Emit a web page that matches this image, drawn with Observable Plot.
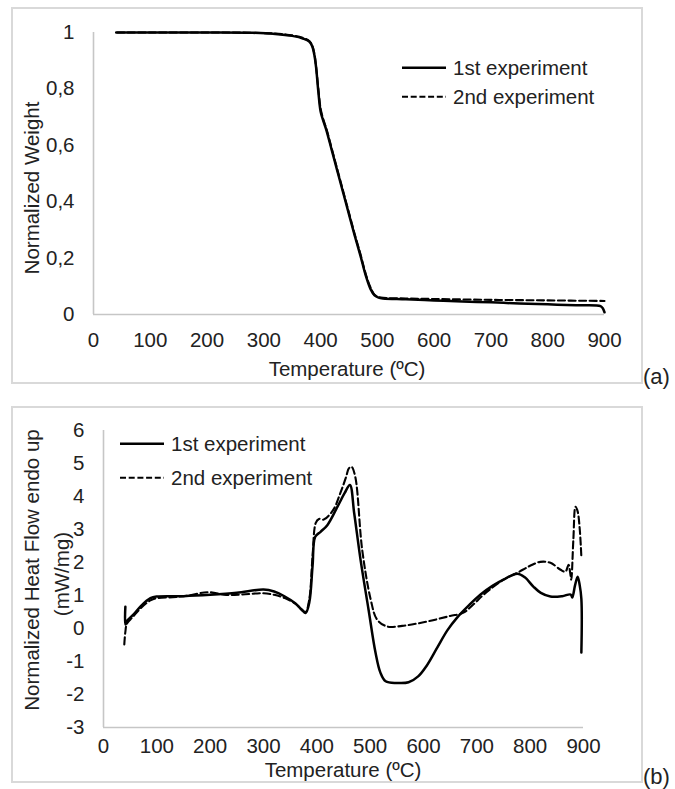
<!DOCTYPE html>
<html>
<head>
<meta charset="utf-8">
<script src="https://cdn.jsdelivr.net/npm/d3@7"></script>
<script src="https://cdn.jsdelivr.net/npm/@observablehq/plot@0.6"></script>
<style>
  html, body { margin: 0; padding: 0; background: #fff; }
  #page { position: relative; width: 675px; height: 789px; background: #fff; overflow: hidden;
          font-family: "Liberation Sans", Arial, sans-serif; color: #222; }
  .box { position: absolute; border: 2px solid #d9d9d9; box-sizing: border-box; }
  .plot { position: absolute; }
  .t { position: absolute; font-size: 20.5px; line-height: 1; white-space: nowrap; transform: translate(-50%, -50%); }
  .rot { transform: translate(-50%, -50%) rotate(-90deg); }
  .lab { position: absolute; font-size: 22px; line-height: 1; white-space: nowrap; transform: translateY(-50%); }
  .leg { position: absolute; display: flex; align-items: center; font-size: 20.5px; line-height: 1; white-space: nowrap; transform: translateY(-50%); }
  .leg svg { margin-right: 7px; }
</style>
</head>
<body>
<div id="page">
  <div class="box" style="left:11px;top:7px;width:632px;height:377px"></div>
  <div class="box" style="left:11px;top:406px;width:632px;height:377px"></div>
  <div id="plotA" class="plot" style="left:11px;top:7px"></div>
  <div id="plotB" class="plot" style="left:11px;top:406px"></div>
</div>
<script>
// ---------- data: panel (a) TGA ----------
const xTicks = [0, 100, 200, 300, 400, 500, 600, 700, 800, 900];
const yTicksA = [0, 0.2, 0.4, 0.6, 0.8, 1];
const yTicksB = [-3, -2, -1, 0, 1, 2, 3, 4, 5, 6];
const seriesNames = ["1st experiment", "2nd experiment"];

const tA1 = [40, 100, 200, 280, 320, 350, 370, 380, 385, 389, 392, 396, 400, 405, 410, 420, 430, 440, 450, 460, 470, 480, 488, 495, 502, 510, 550, 600, 650, 700, 750, 800, 850, 893, 897, 900];
const wA1 = [1, 1, 1, 0.999, 0.995, 0.988, 0.978, 0.968, 0.952, 0.92, 0.877, 0.79, 0.72, 0.685, 0.655, 0.58, 0.505, 0.43, 0.355, 0.28, 0.21, 0.135, 0.09, 0.068, 0.06, 0.057, 0.054, 0.05, 0.046, 0.043, 0.039, 0.036, 0.033, 0.03, 0.022, 0.008];

const tA2 = [42, 100, 200, 280, 320, 350, 370, 380, 385, 389, 392, 396, 400, 405, 410, 420, 430, 440, 450, 460, 470, 480, 488, 495, 502, 510, 550, 600, 700, 800, 900];
const wA2 = [1, 1, 1, 0.999, 0.996, 0.99, 0.98, 0.97, 0.955, 0.925, 0.88, 0.8, 0.73, 0.69, 0.66, 0.585, 0.51, 0.435, 0.36, 0.285, 0.215, 0.14, 0.095, 0.07, 0.062, 0.059, 0.057, 0.055, 0.052, 0.05, 0.048];

// ---------- data: panel (b) DSC ----------
const tB1 = [41, 41, 45, 56, 70, 88, 100, 150, 200, 250, 300, 320, 340, 360, 372, 379, 386, 392, 397, 407, 420, 439, 452, 462, 470, 482, 497, 510, 519, 529, 550, 572, 590, 605, 626, 645, 663, 685, 707, 730, 750, 776, 790, 806, 820, 838, 860, 876, 879, 884, 889, 893, 896, 896];
const vB1 = [0.66, 0.12, 0.25, 0.42, 0.68, 0.92, 0.97, 0.98, 1.02, 1.08, 1.18, 1.12, 0.97, 0.76, 0.56, 0.47, 0.8, 1.9, 2.78, 2.93, 3.14, 3.7, 4.1, 4.35, 3.5, 2.08, 0.57, -0.73, -1.33, -1.6, -1.65, -1.63, -1.45, -1.15, -0.57, -0.05, 0.33, 0.7, 1.03, 1.3, 1.48, 1.66, 1.55, 1.27, 1.08, 0.97, 0.98, 1.03, 0.94, 1.3, 1.57, 1.3, 0.9, -0.73];

const tB2 = [39, 41, 44, 55, 70, 88, 100, 130, 160, 195, 230, 260, 300, 320, 340, 360, 372, 379, 386, 392, 398, 404, 413, 431, 444, 455, 460, 465, 472, 485, 501, 513, 532, 560, 588, 620, 650, 675, 695, 713, 750, 776, 800, 819, 838, 857, 866, 872, 875, 877, 881, 885, 889, 893, 896];
const vB2 = [-0.48, -0.1, 0.15, 0.35, 0.62, 0.85, 0.92, 0.95, 1.0, 1.1, 1.02, 1.03, 1.07, 1.02, 0.92, 0.75, 0.57, 0.5, 0.9, 2.2, 3.2, 3.32, 3.3, 3.6, 4.1, 4.6, 4.85, 4.9, 4.6, 2.39, 0.88, 0.27, 0.06, 0.08, 0.15, 0.26, 0.38, 0.48, 0.75, 1.03, 1.48, 1.69, 1.9, 2.02, 1.99, 1.78, 1.72, 1.93, 1.69, 1.48, 2.7, 3.69, 3.55, 3.0, 2.17];

// ---------- text ----------
const xTitle = "Temperature (ºC)";
const yTitleA = "Normalized Weight";
const yTitleB = ["Normalized Heat Flow endo up", "(mW/mg)"];
const panelLabels = ["(a)", "(b)"];

const FONT = '"Liberation Sans", Arial, sans-serif';
const zip = (xs, ys) => xs.map((x, i) => ({x, y: ys[i]}));
const commaFmt = d => String(d).replace(".", ",");
const AXIS_GRAY = "#c6c6c6";
const DASH = "7,3.5";

function panel({ticksY, domainY, fmt, s1, s2, W, H, ml, mr, mt, mb, xPad}) {
  return Plot.plot({
    width: W, height: H,
    marginLeft: ml, marginRight: mr, marginTop: mt, marginBottom: mb,
    style: {fontFamily: FONT, fontSize: "20.5px", color: "#222", background: "transparent", overflow: "visible"},
    x: {domain: [0, 900]},
    y: {domain: domainY},
    marks: [
      Plot.ruleY([domainY[0]], {stroke: AXIS_GRAY, strokeWidth: 1.6}),
      Plot.ruleX([0], {stroke: AXIS_GRAY, strokeWidth: 1.6}),
      Plot.axisX({ticks: xTicks, tickSize: 0, tickPadding: xPad, label: null, fontSize: 20.5}),
      Plot.axisY({ticks: ticksY, tickSize: 0, tickPadding: 19, label: null, tickFormat: fmt, fontSize: 20.5}),
      Plot.line(s2, {x: "x", y: "y", stroke: "#000", strokeWidth: 2.1, strokeDasharray: DASH, curve: "catmull-rom"}),
      Plot.line(s1, {x: "x", y: "y", stroke: "#000", strokeWidth: 2.5, curve: "catmull-rom"})
    ]
  });
}

const A = panel({ticksY: yTicksA, domainY: [0, 1], fmt: commaFmt,
  s1: zip(tA1, wA1), s2: zip(tA2, wA2), W: 632, H: 377, ml: 82, mr: 39, mt: 25, mb: 70, xPad: 18});
document.getElementById("plotA").appendChild(A);

const B = panel({ticksY: yTicksB, domainY: [-3, 6], fmt: d => String(d),
  s1: zip(tB1, vB1), s2: zip(tB2, vB2), W: 632, H: 377, ml: 92, mr: 60, mt: 24, mb: 56, xPad: 11});
document.getElementById("plotB").appendChild(B);

// ---------- titles, legends, panel labels ----------
const page = document.getElementById("page");
function addText(cls, txt, left, top) {
  const d = document.createElement("div");
  d.className = cls;
  d.textContent = txt;
  d.style.left = left + "px";
  d.style.top = top + "px";
  page.appendChild(d);
  return d;
}
addText("t", xTitle, 347, 369);
addText("t rot", yTitleA, 32, 188);
addText("t", xTitle, 343, 770);
addText("t rot", yTitleB[0], 32, 570);
addText("t rot", yTitleB[1], 62, 574);
addText("lab", panelLabels[0], 643, 377);
addText("lab", panelLabels[1], 643, 777);

function addLegend(left, tops) {
  seriesNames.forEach((name, i) => {
    const d = document.createElement("div");
    d.className = "leg";
    d.style.left = left + "px";
    d.style.top = tops[i] + "px";
    const dash = i === 1 ? ` stroke-dasharray="6,2.7"` : "";
    const sw = i === 1 ? 2.1 : 2.5;
    d.innerHTML = `<svg width="44" height="6"><line x1="0" y1="3" x2="44" y2="3" stroke="#000" stroke-width="${sw}"${dash}/></svg><span>${name}</span>`;
    page.appendChild(d);
  });
}
addLegend(402, [68, 97]);
addLegend(120, [444, 478]);
</script>
</body>
</html>
